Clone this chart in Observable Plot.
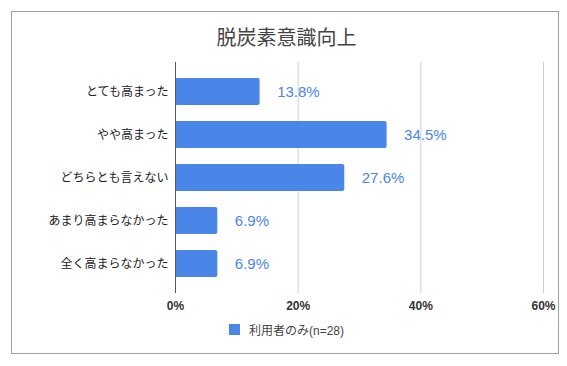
<!DOCTYPE html>
<html>
<head>
<meta charset="utf-8">
<script src="https://cdn.jsdelivr.net/npm/d3@7"></script>
<script src="https://cdn.jsdelivr.net/npm/@observablehq/plot@0.6"></script>
<style>
  html, body { margin: 0; padding: 0; background: #fff; }
  body { width: 567px; height: 366px; position: relative; overflow: hidden;
         font-family: "Liberation Sans", "Noto Sans CJK JP", sans-serif; }
  #frame { position: absolute; left: 11px; top: 11px; width: 546px; height: 341px;
           border: 1px solid #9e9e9e; box-sizing: content-box; }
  #title { position: absolute; left: 3px; top: 25px; width: 567px; text-align: center;
           font-size: 20px; color: #444; font-family: "Noto Sans CJK JP", sans-serif; line-height: 24px; }
  #chart { position: absolute; left: 0; top: 0; }
  #legend { position: absolute; left: 229px; top: 321px; font-size: 12px; color: #444;
            display: flex; align-items: center; font-family: "Liberation Sans", "Noto Sans CJK JP", sans-serif; }
  #legend .sw { width: 11px; height: 11px; background: #4a86e8; margin-right: 9px; }
</style>
</head>
<body>
<div id="frame"></div>
<div id="title">脱炭素意識向上</div>
<div id="chart"></div>
<div id="legend"><span class="sw"></span><span id="legendText"></span></div>
<script>
const categories = ["とても高まった", "やや高まった", "どちらとも言えない", "あまり高まらなかった", "全く高まらなかった"];
const values = [13.8, 34.5, 27.6, 6.9, 6.9];
const xTicks = [0, 20, 40, 60];
const seriesName = "利用者のみ(n=28)";

const data = categories.map((c, i) => ({category: c, value: values[i]}));
const blue = "#4a86e8";

document.getElementById("legendText").textContent = seriesName;

const chart = Plot.plot({
  width: 567,
  height: 318,
  marginLeft: 175,
  marginRight: 24,
  marginTop: 62,
  marginBottom: 25,
  style: {fontFamily: '"Liberation Sans", "Noto Sans CJK JP", sans-serif', background: "transparent"},
  x: {domain: [0, 60], ticks: xTicks, tickFormat: d => d + "%", label: null},
  y: {domain: categories, paddingInner: 0.375, paddingOuter: 0.325, label: null},
  marks: [
    Plot.gridX(xTicks, {stroke: "#d0d0d0", strokeOpacity: 1}),
    Plot.barX(data, {x: "value", y: "category", fill: blue, rx: 2}),
    Plot.ruleX([0], {stroke: "#555", strokeWidth: 1}),
    Plot.text(data, {x: "value", y: "category", text: d => d.value.toFixed(1) + "%",
      textAnchor: "start", dx: 17, fill: blue, fontSize: 15}),
    Plot.axisX(xTicks, {tickSize: 0, tickPadding: 8, fontSize: 12, fill: "#333", fontWeight: "bold",
      tickFormat: d => d + "%", label: null}),
    Plot.axisY({tickSize: 0, tickPadding: 7, fontSize: 12, fill: "#222", label: null,
      fontFamily: '"Noto Sans CJK JP", sans-serif'})
  ]
});
document.getElementById("chart").appendChild(chart);
</script>
</body>
</html>
